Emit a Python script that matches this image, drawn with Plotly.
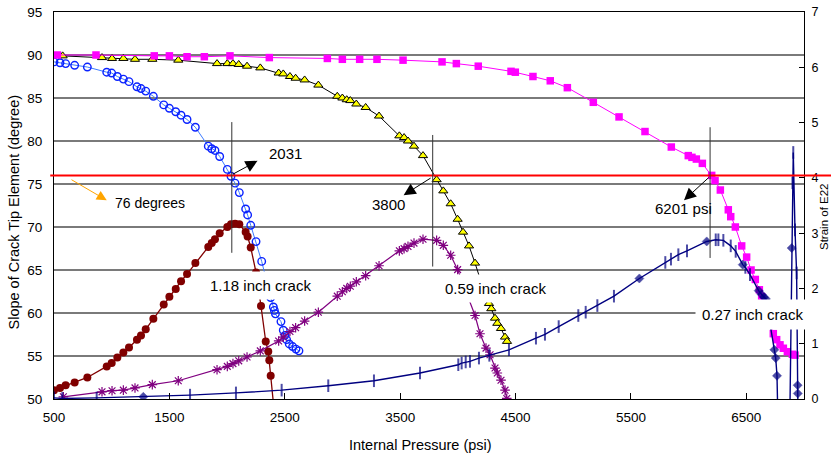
import plotly.graph_objects as go

# ---------------- data ----------------
# 1.18 inch crack : slope (left axis, degree)
p_slope_118 = [500, 552, 601, 679, 789, 957, 1000, 1049, 1101, 1150, 1219, 1254, 1295, 1361, 1451,
               1500, 1555, 1601, 1653, 1725, 1837, 1867, 1895, 1936, 2002, 2034, 2069, 2106, 2161,
               2178, 2205, 2251, 2300, 2378, 2401, 2410, 2419, 2467, 2487, 2502, 2516, 2539, 2568,
               2597, 2623]
slope_118 = [89.2, 89.1, 89.0, 88.8, 88.6, 88.0, 87.9, 87.5, 87.2, 86.9, 86.3, 86.1, 85.8, 85.2, 84.2,
             83.8, 83.4, 83.0, 82.5, 81.6, 79.4, 79.1, 78.9, 78.2, 76.7, 75.9, 75.1, 74.0, 72.1,
             71.4, 70.2, 68.3, 66.0, 61.8, 60.7, 60.3, 59.9, 59.0, 58.0, 57.4, 56.9, 56.4, 56.1,
             55.8, 55.6]

# 0.59 inch crack : slope
p_slope_059 = [575, 916, 1003, 1101, 1202, 1352, 1577, 1913, 2002, 2051, 2101, 2173, 2288, 2447, 2487,
               2545, 2594, 2672, 2791, 2955, 2999, 3037, 3068, 3120, 3201, 3317, 3493, 3534, 3568,
               3620, 3698, 3816, 3874, 3938, 3998, 4045, 4097, 4149, 4250, 4270, 4290, 4322, 4342,
               4374, 4409, 4426]
slope_059 = [89.9, 89.7, 89.6, 89.6, 89.5, 89.5, 89.4, 89.0, 89.0, 89.0, 88.9, 88.7, 88.5, 87.9, 87.8,
             87.5, 87.3, 87.1, 86.5, 85.2, 85.0, 84.8, 84.7, 84.3, 83.9, 82.9, 80.6, 80.4, 80.0,
             79.4, 78.3, 75.5, 74.2, 72.7, 70.9, 69.4, 67.8, 65.8, 61.6, 61.1, 60.5, 59.4, 58.8,
             58.2, 57.2, 56.7]

# 0.27 inch crack : slope
p_slope_027 = [529, 864, 1369, 1500, 1653, 1803, 2025, 2366, 2869, 2999, 3149, 3299, 3525, 3863, 3987,
               4177, 4461, 4498, 4651, 4801, 4949, 5174, 5397, 5622, 5850, 5997, 6029, 6067, 6119,
               6200, 6229, 6275, 6344, 6365, 6405, 6460, 6503, 6541, 6578, 6613, 6633, 6734, 6763,
               6792, 6821, 6856, 6899, 6922]
slope_027 = [90.0, 90.0, 89.9, 89.9, 89.8, 89.8, 89.9, 89.7, 89.6, 89.5, 89.5, 89.5, 89.4, 89.2, 89.0,
             88.7, 88.1, 88.0, 87.5, 87.0, 86.2, 84.5, 82.8, 81.1, 79.3, 78.3, 78.1, 77.9, 77.4,
             76.0, 75.4, 74.3, 72.0, 71.2, 70.0, 67.8, 66.5, 65.0, 63.9, 62.7, 61.9, 57.6, 56.9,
             56.3, 55.9, 55.5, 55.2, 55.1]

# 1.18 inch crack : strain E22 (right axis)
p_strain_118 = [500, 552, 601, 679, 789, 957, 1000, 1049, 1101, 1150, 1219, 1254, 1295, 1361, 1451,
                1500, 1555, 1601, 1653, 1725, 1837, 1867, 1895, 1936, 2002, 2034, 2069, 2106, 2161,
                2178, 2205, 2251, 2294, 2335, 2357, 2366, 2378, 2412]
strain_118 = [0.16, 0.20, 0.25, 0.30, 0.39, 0.59, 0.65, 0.75, 0.84, 0.93, 1.07, 1.15, 1.26, 1.45, 1.71,
              1.85, 1.99, 2.13, 2.26, 2.46, 2.75, 2.82, 2.89, 3.00, 3.11, 3.16, 3.17, 3.16, 3.02,
              2.94, 2.74, 2.29, 1.68, 1.04, 0.86, 0.70, 0.42, -0.30]

# 0.59 inch crack : strain
p_strain_059 = [581, 916, 1003, 1101, 1202, 1352, 1577, 1913, 2002, 2051, 2101, 2173, 2288, 2447, 2487,
                2545, 2594, 2672, 2791, 2955, 2999, 3037, 3068, 3120, 3201, 3317, 3493, 3534, 3568,
                3620, 3698, 3816, 3874, 3938, 3998, 4149, 4192, 4244, 4279, 4322, 4342, 4374, 4409,
                4424]
strain_059 = [0.04, 0.13, 0.15, 0.16, 0.20, 0.26, 0.33, 0.53, 0.59, 0.64, 0.69, 0.76, 0.87, 1.05, 1.12,
              1.22, 1.29, 1.41, 1.57, 1.86, 1.94, 2.00, 2.04, 2.12, 2.23, 2.41, 2.68, 2.72, 2.76,
              2.82, 2.89, 2.87, 2.78, 2.60, 2.34, 1.51, 1.18, 0.92, 0.80, 0.56, 0.47, 0.34, 0.16,
              0.01]

# 0.27 inch crack : strain
p_strain_027 = [500, 572, 870, 1274, 1679, 2077, 2473, 2877, 3273, 3672, 4004, 4033, 4068, 4105, 4183,
                4273, 4443, 4677, 4755, 4874, 5044, 5108, 5209, 5353, 5573, 5798, 5847, 5911, 5986,
                6157, 6235, 6258, 6301, 6365, 6408, 6469, 6492, 6532, 6607, 6633, 6653, 6670, 6743,
                6755, 6766, 6785, 6870, 6893, 6900, 6907, 6922, 6936, 6945, 6946, 6952]
strain_027 = [0.02, 0.01, 0.02, 0.04, 0.07, 0.11, 0.16, 0.24, 0.33, 0.47, 0.62, 0.65, 0.67, 0.68, 0.74,
              0.79, 0.89, 1.10, 1.17, 1.31, 1.51, 1.57, 1.69, 1.86, 2.18, 2.47, 2.53, 2.61, 2.68,
              2.85, 2.88, 2.88, 2.87, 2.77, 2.67, 2.43, 2.38, 2.25, 1.96, 1.89, 1.84, 1.81, 0.89,
              0.74, 0.42, -1.50, -1.50, 2.73, 3.91, 4.46, 3.06, 2.28, 0.25, 0.10, -1.00]
diamond_points_027 = [1274, 5573, 6157, 6469, 6607, 6633, 6653, 6670, 6743, 6755, 6766, 6893, 6945, 6946]

x_tick_vals = [500, 1500, 2500, 3500, 4500, 5500, 6500]
y_tick_vals = [50, 55, 60, 65, 70, 75, 80, 85, 90, 95]
y2_tick_vals = [0, 1, 2, 3, 4, 5, 6, 7]

threshold_deg = 76
crossings = [2031, 3800, 6201]

# ---------------- figure ----------------
FONT = "Arial, 'Liberation Sans', sans-serif"
fig = go.Figure()

fig.add_trace(go.Scatter(x=p_slope_118, y=slope_118, mode="lines+markers",
                         line=dict(color="#3d7bff", width=1),
                         marker=dict(symbol="circle-open", size=7.5, color="#0a22ff", line=dict(width=1.4))))
fig.add_trace(go.Scatter(x=p_slope_059, y=slope_059, mode="lines+markers",
                         line=dict(color="black", width=1),
                         marker=dict(symbol="triangle-up", size=8, color="#ffff00",
                                     line=dict(color="black", width=1))))
fig.add_trace(go.Scatter(x=p_slope_027, y=slope_027, mode="lines+markers",
                         line=dict(color="#ff00ff", width=1),
                         marker=dict(symbol="square", size=7.5, color="#ff00ff")))

fig.add_trace(go.Scatter(x=p_strain_118, y=strain_118, yaxis="y2", mode="lines+markers",
                         line=dict(color="#800000", width=1.3),
                         marker=dict(symbol="circle", size=8, color="#800000")))
fig.add_trace(go.Scatter(x=p_strain_059, y=strain_059, yaxis="y2", mode="lines+markers",
                         line=dict(color="#800080", width=1.2),
                         marker=dict(symbol="asterisk-open", size=8, color="#800080",
                                     line=dict(color="#800080", width=1.2))))
is_dia = [p in diamond_points_027 for p in p_strain_027]
sym027 = ["diamond" if d else "line-ns-open" for d in is_dia]
size027 = [7 if d else 9 for d in is_dia]
lw027 = [0.5 if d else 2 for d in is_dia]
fig.add_trace(go.Scatter(x=p_strain_027, y=strain_027, yaxis="y2", mode="lines+markers",
                         line=dict(color="#000080", width=1.4),
                         marker=dict(symbol=sym027, size=size027, color="#000080",
                                     line=dict(color="#000080", width=lw027))))

# ---------------- shapes ----------------
shapes = [
    dict(type="line", xref="paper", yref="y", x0=-0.005, x1=1.05, y0=threshold_deg, y1=threshold_deg,
         line=dict(color="#ff0000", width=2)),
    dict(type="line", xref="x", yref="y", x0=2041, x1=2041, y0=67.0, y1=82.2,
         line=dict(color="#333333", width=1)),
    dict(type="line", xref="x", yref="y", x0=3782, x1=3782, y0=65.4, y1=80.7,
         line=dict(color="#333333", width=1)),
    dict(type="line", xref="x", yref="y", x0=6186, x1=6186, y0=66.4, y1=81.6,
         line=dict(color="#333333", width=1)),
]

# ---------------- annotations ----------------
ann = []
for (hx, hy, tx, ty, col, sz) in [
    (2264, 77.7, 2038, 76.05, "black", 2.4),
    (3530, 73.7, 3777, 75.8, "black", 2.4),
    (5960, 73.1, 6186, 75.9, "black", 2.4),
    (957, 73.1, 639, 75.6, "#ffa500", 2.0),
]:
    ann.append(dict(x=hx, y=hy, ax=tx, ay=ty, xref="x", yref="y", axref="x", ayref="y",
                    text="", showarrow=True, arrowhead=2, arrowsize=sz, arrowwidth=1,
                    arrowcolor=col))
ann += [
    dict(x=2504, y=78.6, xref="x", yref="y", text=str(crossings[0]), showarrow=False,
         font=dict(size=15)),
    dict(x=3397, y=72.6, xref="x", yref="y", text=str(crossings[1]), showarrow=False,
         font=dict(size=15)),
    dict(x=5957, y=72.1, xref="x", yref="y", text=f"{crossings[2]} psi", showarrow=False,
         font=dict(size=15)),
    dict(x=(112.7 - 54) / 750, y=72.8, xref="paper", yref="y", xanchor="left", yanchor="middle",
         text=f"{threshold_deg} degrees", showarrow=False, font=dict(size=14)),
    dict(x=2291, y=63.15, xref="x", yref="y", text="1.18 inch crack", showarrow=False,
         font=dict(size=15), bgcolor="white", borderpad=5),
    dict(x=4330, y=62.9, xref="x", yref="y", text="0.59 inch crack", showarrow=False,
         font=dict(size=15), bgcolor="white", borderpad=5),
    dict(x=6555, y=59.77, xref="x", yref="y", text="0.27 inch crack", showarrow=False,
         font=dict(size=15), bgcolor="white", borderpad=6),
    dict(x=(13.5 - 54) / 750, y=(399 - 212) / 387, xref="paper", yref="paper",
         xanchor="center", yanchor="middle",
         text="Slope of Crack Tip Element (degree)", textangle=-90, showarrow=False,
         font=dict(size=14.5)),
    dict(x=(420.5 - 54) / 750, y=(399 - 445) / 387, xref="paper", yref="paper",
         xanchor="center", yanchor="middle",
         text="Internal Pressure (psi)", showarrow=False, font=dict(size=14.5)),
    dict(x=(831 - 54) / 750, y=(399 - 217) / 387, xref="paper", yref="paper",
         xanchor="right", yanchor="middle", borderpad=0,
         text="Strain of E22", textangle=-90, showarrow=False, font=dict(size=11.5)),
]

fig.update_layout(
    width=831, height=459,
    margin=dict(l=54, r=27, t=12, b=60, autoexpand=False),
    paper_bgcolor="white", plot_bgcolor="white",
    showlegend=False,
    font=dict(family=FONT, size=14, color="black"),
    xaxis=dict(range=[500, 7000], tickvals=x_tick_vals, ticks="inside", ticklen=6,
               tickcolor="black", showline=True, linecolor="black", linewidth=1, mirror=True,
               showgrid=False, zeroline=False, tickfont=dict(size=13.5), ticklabelstandoff=6,
               automargin=False),
    yaxis=dict(range=[50, 95], tickvals=y_tick_vals, showgrid=True, gridcolor="#7a7a7a",
               gridwidth=1.5, showline=True, linecolor="black", linewidth=1, zeroline=False,
               ticks="", tickfont=dict(size=13.5), ticklabelstandoff=8, automargin=False),
    yaxis2=dict(overlaying="y", side="right", range=[0, 7], tickvals=y2_tick_vals,
                ticks="inside", ticklen=5, tickcolor="black", showline=True, linecolor="black",
                linewidth=1, showgrid=False, zeroline=False, tickfont=dict(size=12.5),
                ticklabelstandoff=4, automargin=False),
    shapes=shapes,
    annotations=ann,
)

# remove the default page margin so the 831x459 figure fills the window exactly
fig.write_html("out.html", config={"displayModeBar": False},
               post_script="document.body.style.margin='0';document.body.style.overflow='hidden';")
